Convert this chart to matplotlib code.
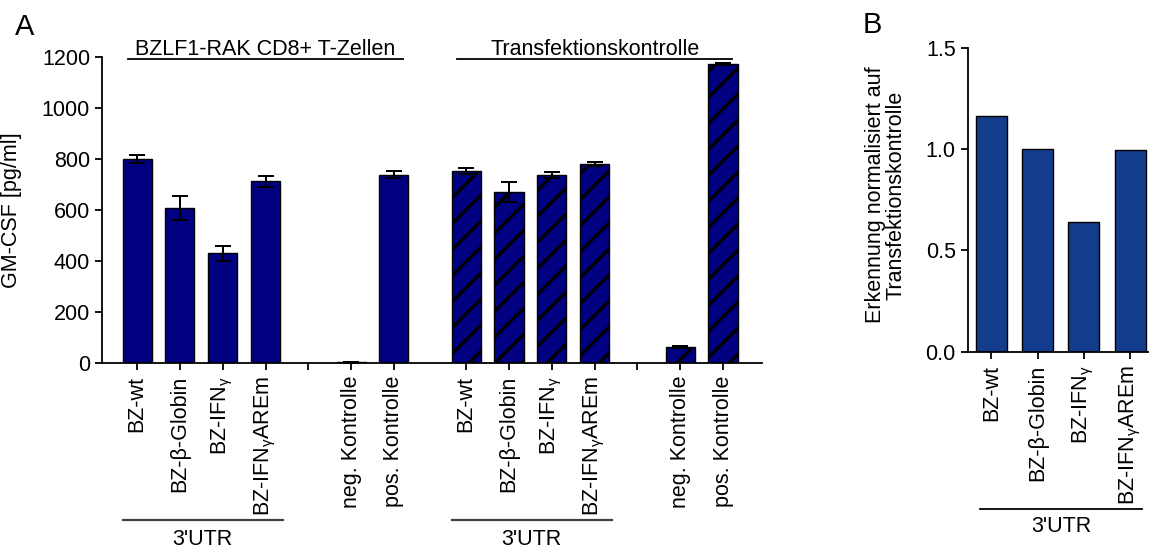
import numpy as np
import matplotlib
matplotlib.use("Agg")
import matplotlib.pyplot as plt

DPI = 78
PX = 72.0 / DPI  # points per pixel

plt.rcParams['font.family'] = ['Liberation Sans', 'DejaVu Sans']
plt.rcParams['mathtext.fontset'] = 'custom'
plt.rcParams['mathtext.rm'] = 'Liberation Sans'
plt.rcParams['mathtext.it'] = 'Liberation Sans'
plt.rcParams['hatch.linewidth'] = 3.2 * PX

# ---- data ------------------------------------------------------------------
labels = ['BZ-wt', 'BZ-β-Globin', r'BZ-IFN$_{\mathrm{γ}}$', r'BZ-IFN$_{\mathrm{γ}}$AREm',
          'neg. Kontrolle', 'pos. Kontrolle']

tcell_vals = [800, 607, 430, 713, 3, 738]
tcell_err = [15, 48, 30, 22, 2, 14]

transf_vals = [754, 670, 737, 782, 64, 1173]
transf_err = [12, 40, 12, 8, 4, 5]

norm_labels = ['BZ-wt', 'BZ-β-Globin', r'BZ-IFN$_{\mathrm{γ}}$', r'BZ-IFN$_{\mathrm{γ}}$AREm']
norm_vals = [1.163, 1.001, 0.641, 0.994]

group_titles = ['BZLF1-RAK CD8+ T-Zellen', 'Transfektionskontrolle']
utr_label = "3'UTR"

navy = '#000080'
blue_b = '#143C8C'
fs = 21.5 * PX
lw_axis = 1.8 * PX
lw_bar = 1.4 * PX
lw_err = 2.0 * PX
cap = 8 * PX
tick_len = 7 * PX

W, H = 1149, 549
fig = plt.figure(figsize=(W / DPI, H / DPI), dpi=DPI)

# ---- panel A -----------------------------------------------------------------
axA = fig.add_axes([102 / W, (H - 363) / H, (762 - 102) / W, 306 / H])
slot = np.array([0, 1, 2, 3, 5, 6], dtype=float)
offset2 = 7.69
x1 = slot
x2 = slot + offset2
bw = 0.68

axA.bar(x1, tcell_vals, width=bw, color=navy, edgecolor='black', linewidth=lw_bar, zorder=2)
axA.bar(x2, transf_vals, width=bw, color=navy, edgecolor='black', linewidth=lw_bar,
        hatch='/', zorder=2)
axA.errorbar(x1, tcell_vals, yerr=tcell_err, fmt='none', ecolor='black',
             elinewidth=lw_err, capsize=cap, capthick=lw_err, zorder=3)
axA.errorbar(x2, transf_vals, yerr=transf_err, fmt='none', ecolor='black',
             elinewidth=lw_err, capsize=cap, capthick=lw_err, zorder=3)

ticks = np.concatenate([x1[:4], [4], x1[4:], x2[:4], [4 + offset2], x2[4:]])
ticklabels = labels[:4] + [''] + labels[4:] + labels[:4] + [''] + labels[4:]
axA.set_xticks(ticks)
axA.set_xticklabels(ticklabels, rotation=90, fontsize=fs)
axA.set_xlim(-0.82, 14.6)
axA.set_ylim(0, 1200)
axA.set_yticks(np.arange(0, 1201, 200))
axA.tick_params(axis='y', labelsize=fs, length=tick_len, width=lw_axis, pad=5 * PX)
axA.tick_params(axis='x', length=tick_len, width=lw_axis, pad=6 * PX)
for s in ['top', 'right']:
    axA.spines[s].set_visible(False)
for s in ['left', 'bottom']:
    axA.spines[s].set_linewidth(lw_axis)
axA.set_ylabel('GM-CSF [pg/ml]', fontsize=fs)
axA.yaxis.set_label_coords(-(102 - 22) / 660, 0.5)

trA = axA.get_xaxis_transform()
for xs, title in [(x1, group_titles[0]), (x2, group_titles[1])]:
    axA.plot([xs[0] - 0.21, xs[-1] + 0.21], [0.9944, 0.9944], color='black',
             lw=lw_axis, transform=trA, clip_on=False)
    axA.text((xs[0] + xs[-1]) / 2, 1.0065, title, transform=trA, ha='center',
             va='baseline', fontsize=fs)
    axA.plot([xs[0] - 0.33, xs[3] + 0.40], [-0.513, -0.513], color='#404040',
             lw=2.2 * PX, transform=trA, clip_on=False)
    axA.text((xs[0] + xs[3]) / 2 + 0.03, -0.595, utr_label, transform=trA,
             ha='center', va='baseline', fontsize=fs)

# ---- panel B -----------------------------------------------------------------
axB = fig.add_axes([967.7 / W, (H - 351.7) / H, (W - 967.7) / W, 304 / H])
xb = np.arange(len(norm_vals), dtype=float)
axB.bar(xb, norm_vals, width=0.67, color=blue_b, edgecolor='black', linewidth=lw_bar)
axB.set_xticks(xb)
axB.set_xticklabels(norm_labels, rotation=90, fontsize=fs)
axB.set_xlim(-0.51, 3.41)
axB.set_ylim(0, 1.5)
axB.set_yticks([0, 0.5, 1.0, 1.5])
axB.set_yticklabels(['0.0', '0.5', '1.0', '1.5'])
axB.tick_params(axis='y', labelsize=fs, length=tick_len, width=lw_axis, pad=5 * PX)
axB.tick_params(axis='x', length=tick_len, width=lw_axis, pad=6 * PX)
for s in ['top', 'right']:
    axB.spines[s].set_visible(False)
for s in ['left', 'bottom']:
    axB.spines[s].set_linewidth(lw_axis)

trB = axB.get_xaxis_transform()
axB.plot([xb[0] - 0.24, xb[-1] + 0.26], [-0.517, -0.517], color='black', lw=lw_axis,
         transform=trB, clip_on=False)
axB.text((xb[0] + xb[-1]) / 2 + 0.02, -0.593, utr_label, transform=trB,
         ha='center', va='baseline', fontsize=fs)

fig.text(886 / W, 1 - 195 / H, 'Erkennung normalisiert auf\nTransfektionskontrolle',
         rotation=90, ha='center', va='center', fontsize=fs, linespacing=1.0,
         multialignment='center')

# ---- panel letters -----------------------------------------------------------
fig.text(15 / W, 1 - 35 / H, 'A', fontsize=29 * PX, ha='left', va='baseline')
fig.text(863 / W, 1 - 33 / H, 'B', fontsize=29 * PX, ha='left', va='baseline')

fig.savefig('out.png', dpi=DPI)
